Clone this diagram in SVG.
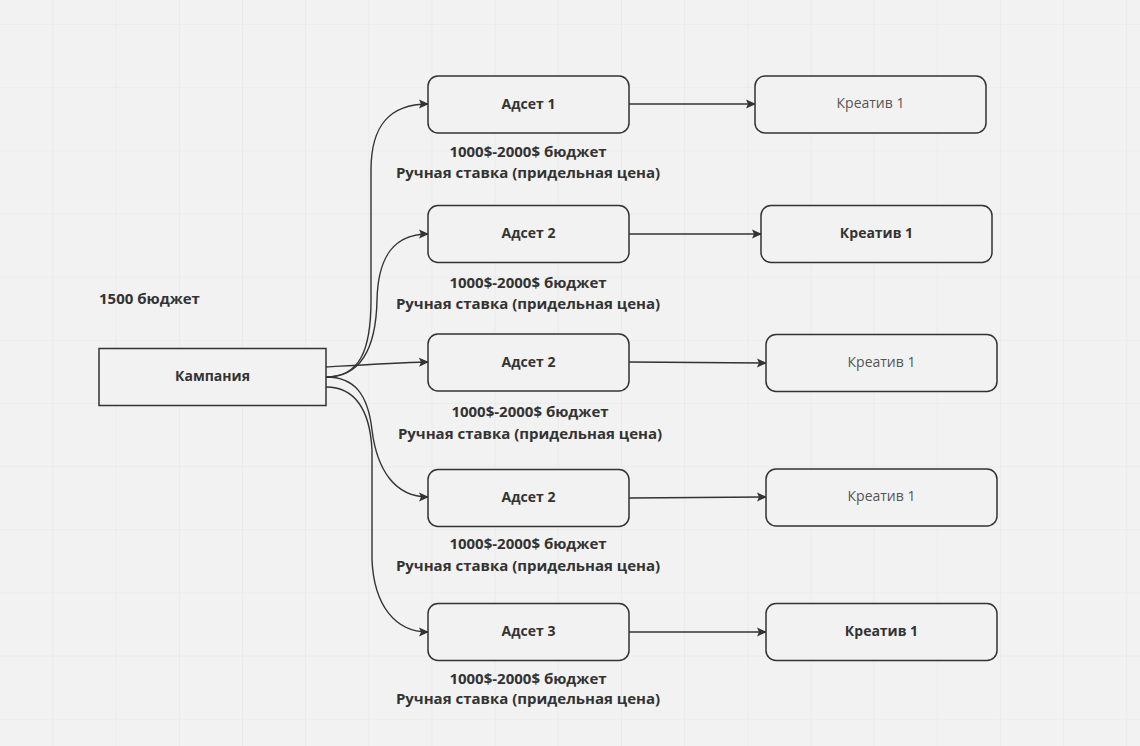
<svg xmlns="http://www.w3.org/2000/svg" width="1140" height="746" viewBox="0 0 1140 746">
<defs>
<pattern id="grid" x="52.5" y="24" width="63.16" height="63.16" patternUnits="userSpaceOnUse">
<path d="M0,0 H63.16 M0,0 V63.16" fill="none" stroke="#e6e6e6" stroke-width="1.2"/>
</pattern>
<marker id="arr" viewBox="0 0 10 10" refX="9" refY="5" markerWidth="10" markerHeight="10" markerUnits="userSpaceOnUse" orient="auto">
<path d="M0,0.5 L10,5 L0,9.5 L2,5 Z" fill="#333"/>
</marker>
<style>
.box{fill:#f2f2f2;stroke:#333;stroke-width:1.5}
.b{font-family:"Open Sans","Liberation Sans",sans-serif;font-weight:bold;font-size:14px;fill:#333;text-anchor:middle}
.n{font-family:"Open Sans","Liberation Sans",sans-serif;font-size:14px;fill:#555;text-anchor:middle}
.lbl{font-family:"Open Sans","Liberation Sans",sans-serif;font-weight:bold;font-size:15px;fill:#333;text-anchor:middle}
.c{fill:none;stroke:#333;stroke-width:1.4;marker-end:url(#arr)}
</style>
</defs>
<rect width="1140" height="746" fill="#f2f2f2"/>
<rect width="1140" height="746" fill="url(#grid)"/>
<g id="connectors">
<path class="c" d="M326,377 C360,377 371,350 371,300 L371,170 C371,125 390,104 428,104"/>
<path class="c" d="M326,377 C360,377 376,350 377,300 C378,255 395,234 428,234"/>
<path class="c" d="M326,367 C360,365 390,363 428,362"/>
<path class="c" d="M326,377 C355,377 368,395 372,430 C377,470 395,497 428,497"/>
<path class="c" d="M326,387 C355,387 370,410 372,450 L372,560 C374,605 395,632 428,632"/>
<path class="c" d="M629,104 L755,104"/>
<path class="c" d="M629,234 L761,234"/>
<path class="c" d="M629,362 L766,363"/>
<path class="c" d="M629,498 L766,497"/>
<path class="c" d="M629,632 L766,632"/>
</g>
<g id="budget"><text class="lbl" x="99" y="304" style="text-anchor:start">1500 бюджет</text></g>
<g id="campaign"><rect class="box" x="99" y="348.5" width="227" height="57"/><text class="b" x="212.5" y="381">Кампания</text></g>
<g id="adset1"><rect class="box" x="428" y="76" width="201" height="57" rx="10"/><text class="b" x="528.5" y="109">Адсет 1</text>
<text class="lbl" x="528" y="157">1000$-2000$ бюджет</text><text class="lbl" x="528" y="178">Ручная ставка (придельная цена)</text></g>
<g id="adset2a"><rect class="box" x="428" y="205.5" width="201" height="57" rx="10"/><text class="b" x="528.5" y="238">Адсет 2</text>
<text class="lbl" x="528" y="288">1000$-2000$ бюджет</text><text class="lbl" x="528" y="309">Ручная ставка (придельная цена)</text></g>
<g id="adset2b"><rect class="box" x="428" y="334" width="201" height="57" rx="10"/><text class="b" x="528.5" y="367">Адсет 2</text>
<text class="lbl" x="530" y="417">1000$-2000$ бюджет</text><text class="lbl" x="530" y="439">Ручная ставка (придельная цена)</text></g>
<g id="adset2c"><rect class="box" x="428" y="469.5" width="201" height="57" rx="10"/><text class="b" x="528.5" y="502">Адсет 2</text>
<text class="lbl" x="528" y="549">1000$-2000$ бюджет</text><text class="lbl" x="528" y="571">Ручная ставка (придельная цена)</text></g>
<g id="adset3"><rect class="box" x="428" y="603.5" width="201" height="57" rx="10"/><text class="b" x="528.5" y="636">Адсет 3</text>
<text class="lbl" x="528" y="684">1000$-2000$ бюджет</text><text class="lbl" x="528" y="704">Ручная ставка (придельная цена)</text></g>
<g id="creative1"><rect class="box" x="755" y="76" width="231" height="57" rx="10"/><text class="n" x="870.5" y="108">Креатив 1</text></g>
<g id="creative2"><rect class="box" x="761" y="205.5" width="231" height="57" rx="10"/><text class="b" x="876.5" y="238">Креатив 1</text></g>
<g id="creative3"><rect class="box" x="766" y="334.5" width="231" height="57" rx="10"/><text class="n" x="881.5" y="367">Креатив 1</text></g>
<g id="creative4"><rect class="box" x="766" y="469" width="231" height="57" rx="10"/><text class="n" x="881.5" y="501">Креатив 1</text></g>
<g id="creative5"><rect class="box" x="766" y="603.5" width="231" height="57" rx="10"/><text class="b" x="881.5" y="636">Креатив 1</text></g>
</svg>
